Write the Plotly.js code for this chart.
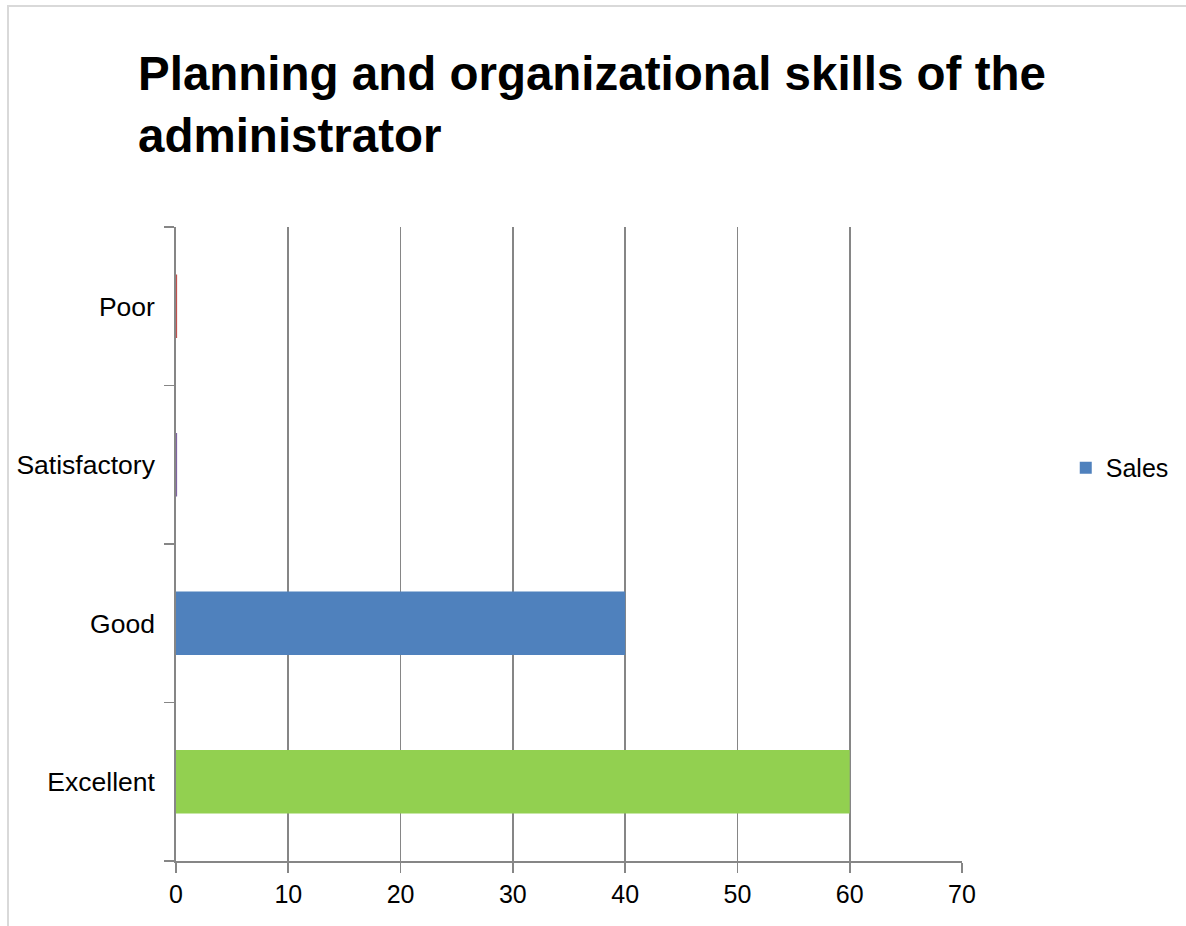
<!DOCTYPE html>
<html>
<head>
<meta charset="utf-8">
<script src="https://cdn.plot.ly/plotly-3.0.1.min.js"></script>
<style>
  html, body { margin: 0; padding: 0; background: #fff; }
  #wrap { position: relative; width: 1186px; height: 926px; }
  #chart { width: 1186px; height: 926px; }
  #frame { position: absolute; left: 7px; top: 5px; right: -4px; bottom: -4px;
           border-left: 2px solid #d9d9d9; border-top: 2px solid #d9d9d9; pointer-events: none; }
</style>
</head>
<body>
<div id="wrap">
  <div id="chart"></div>
  <div id="frame"></div>
</div>
<script>
// Data (data order chosen so the legend swatch shows the series' blue)
const categories = ['Good', 'Excellent', 'Satisfactory', 'Poor'];
const values = [40, 60, 0.1, 0.1];
const barColors = ['#4F81BD', '#92D050', '#8064A2', '#C0504D'];
const axisOrder = ['Excellent', 'Good', 'Satisfactory', 'Poor'];
const seriesName = 'Sales';
const chartTitle = 'Planning and organizational skills of the<br>administrator';

const gray = '#868686';
const fontFamily = 'Liberation Sans, Arial, sans-serif';

const trace = {
  type: 'bar',
  orientation: 'h',
  name: seriesName,
  y: categories,
  x: values,
  width: 0.4,
  marker: { color: barColors, line: { width: 0 } },
  showlegend: true,
  hoverinfo: 'x+y'
};

const layout = {
  width: 1186,
  height: 926,
  paper_bgcolor: '#ffffff',
  plot_bgcolor: '#ffffff',
  margin: { l: 176, r: 224, t: 227, b: 65 },
  font: { family: fontFamily, size: 25, color: '#000' },
  title: {
    text: chartTitle,
    xref: 'container', yref: 'container',
    x: 138 / 1186, xanchor: 'left',
    y: 1 - 90 / 926, yanchor: 'top',
    font: { family: fontFamily, size: 47.5, weight: 'bold', color: '#000' }
  },
  xaxis: {
    range: [0, 70],
    dtick: 10,
    tick0: 0,
    showgrid: true,
    gridcolor: gray,
    gridwidth: 1.8,
    zeroline: false,
    showline: true,
    linecolor: gray,
    linewidth: 1.8,
    ticks: 'outside',
    ticklen: 10,
    tickwidth: 1.8,
    tickcolor: gray,
    ticklabelstandoff: 0,
    tickfont: { size: 25, color: '#000' },
    fixedrange: true
  },
  yaxis: {
    type: 'category',
    categoryorder: 'array',
    categoryarray: axisOrder,
    tickson: 'boundaries',
    showgrid: false,
    zeroline: false,
    showline: true,
    linecolor: gray,
    linewidth: 1.8,
    ticks: 'outside',
    ticklen: 10,
    tickwidth: 1.8,
    tickcolor: gray,
    ticklabelstandoff: 14,
    tickfont: { size: 26.5, color: '#000' },
    fixedrange: true
  },
  legend: {
    x: 1.132, xanchor: 'left',
    y: 0.62, yanchor: 'middle',
    font: { size: 25, color: '#000' },
    bgcolor: 'rgba(0,0,0,0)',
    borderwidth: 0
  },
  bargap: 0.6
};

Plotly.newPlot('chart', [trace], layout, { displayModeBar: false, staticPlot: true });
</script>
</body>
</html>
